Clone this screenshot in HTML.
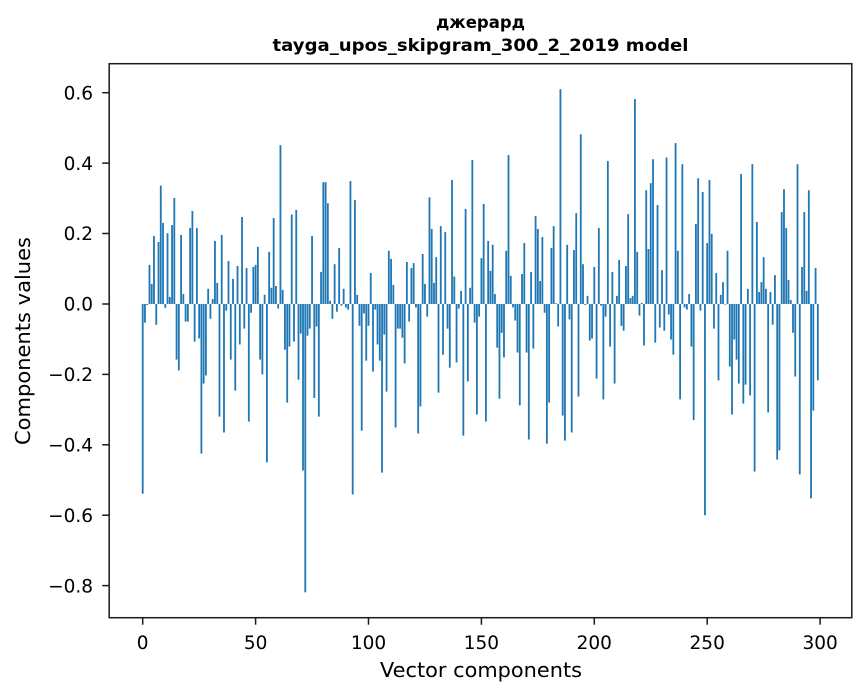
<!DOCTYPE html>
<html><head><meta charset="utf-8"><style>
html,body{margin:0;padding:0;background:#fff;}
svg{display:block;}
text{font-family:"DejaVu Sans","Liberation Sans",sans-serif;fill:#000;}
</style></head><body>
<svg width="867" height="696" viewBox="0 0 867 696" xmlns="http://www.w3.org/2000/svg">
<rect width="867" height="696" fill="#fff"/>
<text x="480.5" y="28" text-anchor="middle" font-weight="bold" font-size="16.5">джерард</text>
<text x="480.5" y="51" text-anchor="middle" font-weight="bold" font-size="16.5" textLength="416" lengthAdjust="spacingAndGlyphs">tayga_upos_skipgram_300_2_2019 model</text>
<g transform="translate(142.7,303.96) scale(2.258,-352.1)" fill="#1f77b4">
<rect x="-.4" y="-.539" width=".8" height=".539"/>
<rect x=".6" y="-.053" width=".8" height=".053"/>
<rect x="1.6" y="-.003" width=".8" height=".003"/>
<rect x="2.6" y="0" width=".8" height=".111"/>
<rect x="3.6" y="0" width=".8" height=".057"/>
<rect x="4.6" y="0" width=".8" height=".193"/>
<rect x="5.6" y="-.059" width=".8" height=".059"/>
<rect x="6.6" y="0" width=".8" height=".176"/>
<rect x="7.6" y="0" width=".8" height=".336"/>
<rect x="8.6" y="0" width=".8" height=".23"/>
<rect x="9.6" y="-.011" width=".8" height=".011"/>
<rect x="10.6" y="0" width=".8" height=".201"/>
<rect x="11.6" y="0" width=".8" height=".02"/>
<rect x="12.6" y="0" width=".8" height=".224"/>
<rect x="13.6" y="0" width=".8" height=".301"/>
<rect x="14.6" y="-.158" width=".8" height=".158"/>
<rect x="15.6" y="-.189" width=".8" height=".189"/>
<rect x="16.6" y="0" width=".8" height=".196"/>
<rect x="17.6" y="0" width=".8" height=".028"/>
<rect x="18.6" y="-.05" width=".8" height=".05"/>
<rect x="19.6" y="-.05" width=".8" height=".05"/>
<rect x="20.6" y="0" width=".8" height=".216"/>
<rect x="21.6" y="0" width=".8" height=".264"/>
<rect x="22.6" y="-.107" width=".8" height=".107"/>
<rect x="23.6" y="0" width=".8" height=".216"/>
<rect x="24.6" y="-.098" width=".8" height=".098"/>
<rect x="25.6" y="-.425" width=".8" height=".425"/>
<rect x="26.6" y="-.226" width=".8" height=".226"/>
<rect x="27.6" y="-.203" width=".8" height=".203"/>
<rect x="28.6" y="0" width=".8" height=".043"/>
<rect x="29.6" y="-.042" width=".8" height=".042"/>
<rect x="30.6" y="0" width=".8" height=".014"/>
<rect x="31.6" y="0" width=".8" height=".179"/>
<rect x="32.6" y="0" width=".8" height=".06"/>
<rect x="33.6" y="-.32" width=".8" height=".32"/>
<rect x="34.6" y="0" width=".8" height=".196"/>
<rect x="35.6" y="-.365" width=".8" height=".365"/>
<rect x="36.6" y="-.019" width=".8" height=".019"/>
<rect x="37.6" y="0" width=".8" height=".122"/>
<rect x="38.6" y="-.158" width=".8" height=".158"/>
<rect x="39.6" y="0" width=".8" height=".071"/>
<rect x="40.6" y="-.246" width=".8" height=".246"/>
<rect x="41.6" y="0" width=".8" height=".108"/>
<rect x="42.6" y="-.115" width=".8" height=".115"/>
<rect x="43.6" y="0" width=".8" height=".247"/>
<rect x="44.6" y="-.07" width=".8" height=".07"/>
<rect x="45.6" y="0" width=".8" height=".102"/>
<rect x="46.6" y="-.334" width=".8" height=".334"/>
<rect x="47.6" y="-.025" width=".8" height=".025"/>
<rect x="48.6" y="0" width=".8" height=".105"/>
<rect x="49.6" y="0" width=".8" height=".111"/>
<rect x="50.6" y="0" width=".8" height=".162"/>
<rect x="51.6" y="-.158" width=".8" height=".158"/>
<rect x="52.6" y="-.2" width=".8" height=".2"/>
<rect x="53.6" y="0" width=".8" height=".026"/>
<rect x="54.6" y="-.45" width=".8" height=".45"/>
<rect x="55.6" y="0" width=".8" height=".148"/>
<rect x="56.6" y="0" width=".8" height=".046"/>
<rect x="57.6" y="0" width=".8" height=".244"/>
<rect x="58.6" y="0" width=".8" height=".051"/>
<rect x="59.6" y="-.013" width=".8" height=".013"/>
<rect x="60.6" y="0" width=".8" height=".451"/>
<rect x="61.6" y="0" width=".8" height=".04"/>
<rect x="62.6" y="-.13" width=".8" height=".13"/>
<rect x="63.6" y="-.28" width=".8" height=".28"/>
<rect x="64.6" y="-.121" width=".8" height=".121"/>
<rect x="65.6" y="0" width=".8" height=".254"/>
<rect x="66.6" y="-.107" width=".8" height=".107"/>
<rect x="67.6" y="0" width=".8" height=".267"/>
<rect x="68.6" y="-.215" width=".8" height=".215"/>
<rect x="69.6" y="-.084" width=".8" height=".084"/>
<rect x="70.6" y="-.473" width=".8" height=".473"/>
<rect x="71.6" y="-.819" width=".8" height=".819"/>
<rect x="72.6" y="-.09" width=".8" height=".09"/>
<rect x="73.6" y="-.07" width=".8" height=".07"/>
<rect x="74.6" y="0" width=".8" height=".193"/>
<rect x="75.6" y="-.267" width=".8" height=".267"/>
<rect x="76.6" y="-.064" width=".8" height=".064"/>
<rect x="77.6" y="-.32" width=".8" height=".32"/>
<rect x="78.6" y="0" width=".8" height=".091"/>
<rect x="79.6" y="0" width=".8" height=".346"/>
<rect x="80.6" y="0" width=".8" height=".346"/>
<rect x="81.6" y="0" width=".8" height=".286"/>
<rect x="82.6" y="0" width=".8" height=".009"/>
<rect x="83.6" y="-.042" width=".8" height=".042"/>
<rect x="84.6" y="0" width=".8" height=".113"/>
<rect x="85.6" y="-.022" width=".8" height=".022"/>
<rect x="86.6" y="0" width=".8" height=".159"/>
<rect x="87.6" y="-.005" width=".8" height=".005"/>
<rect x="88.6" y="0" width=".8" height=".043"/>
<rect x="89.6" y="-.01" width=".8" height=".01"/>
<rect x="90.6" y="-.016" width=".8" height=".016"/>
<rect x="91.6" y="0" width=".8" height=".349"/>
<rect x="92.6" y="-.541" width=".8" height=".541"/>
<rect x="93.6" y="0" width=".8" height=".295"/>
<rect x="94.6" y="0" width=".8" height=".026"/>
<rect x="95.6" y="-.062" width=".8" height=".062"/>
<rect x="96.6" y="-.36" width=".8" height=".36"/>
<rect x="97.6" y="-.027" width=".8" height=".027"/>
<rect x="98.6" y="-.161" width=".8" height=".161"/>
<rect x="99.6" y="-.062" width=".8" height=".062"/>
<rect x="100.6" y="0" width=".8" height=".088"/>
<rect x="101.6" y="-.192" width=".8" height=".192"/>
<rect x="102.6" y="-.016" width=".8" height=".016"/>
<rect x="103.6" y="-.115" width=".8" height=".115"/>
<rect x="104.6" y="-.161" width=".8" height=".161"/>
<rect x="105.6" y="-.479" width=".8" height=".479"/>
<rect x="106.6" y="-.087" width=".8" height=".087"/>
<rect x="107.6" y="-.249" width=".8" height=".249"/>
<rect x="108.6" y="0" width=".8" height=".151"/>
<rect x="109.6" y="0" width=".8" height=".128"/>
<rect x="110.6" y="0" width=".8" height=".054"/>
<rect x="111.6" y="-.351" width=".8" height=".351"/>
<rect x="112.6" y="-.07" width=".8" height=".07"/>
<rect x="113.6" y="-.07" width=".8" height=".07"/>
<rect x="114.6" y="-.096" width=".8" height=".096"/>
<rect x="115.6" y="-.169" width=".8" height=".169"/>
<rect x="116.6" y="0" width=".8" height=".119"/>
<rect x="117.6" y="-.05" width=".8" height=".05"/>
<rect x="118.6" y="0" width=".8" height=".102"/>
<rect x="119.6" y="0" width=".8" height=".116"/>
<rect x="120.6" y="-.01" width=".8" height=".01"/>
<rect x="121.6" y="-.368" width=".8" height=".368"/>
<rect x="122.6" y="-.291" width=".8" height=".291"/>
<rect x="123.6" y="0" width=".8" height=".142"/>
<rect x="124.6" y="0" width=".8" height=".057"/>
<rect x="125.6" y="-.036" width=".8" height=".036"/>
<rect x="126.6" y="0" width=".8" height=".303"/>
<rect x="127.6" y="0" width=".8" height=".213"/>
<rect x="128.6" y="0" width=".8" height=".06"/>
<rect x="129.6" y="0" width=".8" height=".133"/>
<rect x="130.6" y="-.252" width=".8" height=".252"/>
<rect x="131.6" y="0" width=".8" height=".221"/>
<rect x="132.6" y="-.144" width=".8" height=".144"/>
<rect x="133.6" y="0" width=".8" height=".204"/>
<rect x="134.6" y="-.07" width=".8" height=".07"/>
<rect x="135.6" y="-.181" width=".8" height=".181"/>
<rect x="136.6" y="0" width=".8" height=".352"/>
<rect x="137.6" y="0" width=".8" height=".078"/>
<rect x="138.6" y="-.166" width=".8" height=".166"/>
<rect x="139.6" y="-.013" width=".8" height=".013"/>
<rect x="140.6" y="0" width=".8" height=".037"/>
<rect x="141.6" y="-.374" width=".8" height=".374"/>
<rect x="142.6" y="0" width=".8" height=".27"/>
<rect x="143.6" y="-.22" width=".8" height=".22"/>
<rect x="144.6" y="0" width=".8" height=".046"/>
<rect x="145.6" y="0" width=".8" height=".409"/>
<rect x="146.6" y="-.053" width=".8" height=".053"/>
<rect x="147.6" y="-.314" width=".8" height=".314"/>
<rect x="148.6" y="-.036" width=".8" height=".036"/>
<rect x="149.6" y="0" width=".8" height=".13"/>
<rect x="150.6" y="0" width=".8" height=".284"/>
<rect x="151.6" y="-.334" width=".8" height=".334"/>
<rect x="152.6" y="0" width=".8" height=".179"/>
<rect x="153.6" y="0" width=".8" height=".094"/>
<rect x="154.6" y="0" width=".8" height=".168"/>
<rect x="155.6" y="0" width=".8" height=".028"/>
<rect x="156.6" y="-.124" width=".8" height=".124"/>
<rect x="157.6" y="-.269" width=".8" height=".269"/>
<rect x="158.6" y="-.082" width=".8" height=".082"/>
<rect x="159.6" y="-.152" width=".8" height=".152"/>
<rect x="160.6" y="0" width=".8" height=".151"/>
<rect x="161.6" y="0" width=".8" height=".423"/>
<rect x="162.6" y="0" width=".8" height=".08"/>
<rect x="163.6" y="-.01" width=".8" height=".01"/>
<rect x="164.6" y="-.047" width=".8" height=".047"/>
<rect x="165.6" y="-.138" width=".8" height=".138"/>
<rect x="166.6" y="-.288" width=".8" height=".288"/>
<rect x="167.6" y="0" width=".8" height=".085"/>
<rect x="168.6" y="0" width=".8" height=".173"/>
<rect x="169.6" y="-.138" width=".8" height=".138"/>
<rect x="170.6" y="-.385" width=".8" height=".385"/>
<rect x="171.6" y="0" width=".8" height=".091"/>
<rect x="172.6" y="-.127" width=".8" height=".127"/>
<rect x="173.6" y="0" width=".8" height=".25"/>
<rect x="174.6" y="0" width=".8" height=".213"/>
<rect x="175.6" y="0" width=".8" height=".065"/>
<rect x="176.6" y="0" width=".8" height=".19"/>
<rect x="177.6" y="-.025" width=".8" height=".025"/>
<rect x="178.6" y="-.397" width=".8" height=".397"/>
<rect x="179.6" y="-.28" width=".8" height=".28"/>
<rect x="180.6" y="0" width=".8" height=".159"/>
<rect x="181.6" y="0" width=".8" height=".221"/>
<rect x="182.6" y="0" width=".8" height=".002"/>
<rect x="183.6" y="-.064" width=".8" height=".064"/>
<rect x="184.6" y="0" width=".8" height=".61"/>
<rect x="185.6" y="-.317" width=".8" height=".317"/>
<rect x="186.6" y="-.388" width=".8" height=".388"/>
<rect x="187.6" y="0" width=".8" height=".168"/>
<rect x="188.6" y="-.044" width=".8" height=".044"/>
<rect x="189.6" y="-.365" width=".8" height=".365"/>
<rect x="190.6" y="0" width=".8" height=".153"/>
<rect x="191.6" y="0" width=".8" height=".258"/>
<rect x="192.6" y="-.263" width=".8" height=".263"/>
<rect x="193.6" y="0" width=".8" height=".482"/>
<rect x="194.6" y="0" width=".8" height=".113"/>
<rect x="195.6" y="-.003" width=".8" height=".003"/>
<rect x="196.6" y="0" width=".8" height=".023"/>
<rect x="197.6" y="-.104" width=".8" height=".104"/>
<rect x="198.6" y="-.098" width=".8" height=".098"/>
<rect x="199.6" y="0" width=".8" height=".105"/>
<rect x="200.6" y="-.212" width=".8" height=".212"/>
<rect x="201.6" y="0" width=".8" height=".216"/>
<rect x="202.6" y="-.005" width=".8" height=".005"/>
<rect x="203.6" y="-.271" width=".8" height=".271"/>
<rect x="204.6" y="-.036" width=".8" height=".036"/>
<rect x="205.6" y="0" width=".8" height=".406"/>
<rect x="206.6" y="-.121" width=".8" height=".121"/>
<rect x="207.6" y="0" width=".8" height=".091"/>
<rect x="208.6" y="-.226" width=".8" height=".226"/>
<rect x="209.6" y="0" width=".8" height=".023"/>
<rect x="210.6" y="0" width=".8" height=".125"/>
<rect x="211.6" y="-.062" width=".8" height=".062"/>
<rect x="212.6" y="-.076" width=".8" height=".076"/>
<rect x="213.6" y="0" width=".8" height=".108"/>
<rect x="214.6" y="0" width=".8" height=".255"/>
<rect x="215.6" y="0" width=".8" height=".017"/>
<rect x="216.6" y="0" width=".8" height=".023"/>
<rect x="217.6" y="0" width=".8" height=".582"/>
<rect x="218.6" y="0" width=".8" height=".148"/>
<rect x="219.6" y="-.033" width=".8" height=".033"/>
<rect x="220.6" y="0" width=".8" height=".003"/>
<rect x="221.6" y="-.118" width=".8" height=".118"/>
<rect x="222.6" y="0" width=".8" height=".323"/>
<rect x="223.6" y="0" width=".8" height=".156"/>
<rect x="224.6" y="0" width=".8" height=".343"/>
<rect x="225.6" y="0" width=".8" height=".411"/>
<rect x="226.6" y="-.11" width=".8" height=".11"/>
<rect x="227.6" y="0" width=".8" height=".281"/>
<rect x="228.6" y="-.067" width=".8" height=".067"/>
<rect x="229.6" y="0" width=".8" height=".096"/>
<rect x="230.6" y="-.076" width=".8" height=".076"/>
<rect x="231.6" y="0" width=".8" height=".416"/>
<rect x="232.6" y="-.03" width=".8" height=".03"/>
<rect x="233.6" y="-.101" width=".8" height=".101"/>
<rect x="234.6" y="-.144" width=".8" height=".144"/>
<rect x="235.6" y="0" width=".8" height=".457"/>
<rect x="236.6" y="0" width=".8" height=".151"/>
<rect x="237.6" y="-.271" width=".8" height=".271"/>
<rect x="238.6" y="0" width=".8" height=".397"/>
<rect x="239.6" y="-.01" width=".8" height=".01"/>
<rect x="240.6" y="-.016" width=".8" height=".016"/>
<rect x="241.6" y="0" width=".8" height=".028"/>
<rect x="242.6" y="-.121" width=".8" height=".121"/>
<rect x="243.6" y="-.33" width=".8" height=".33"/>
<rect x="244.6" y="0" width=".8" height=".227"/>
<rect x="245.6" y="0" width=".8" height=".357"/>
<rect x="246.6" y="-.019" width=".8" height=".019"/>
<rect x="247.6" y="0" width=".8" height=".318"/>
<rect x="248.6" y="-.6" width=".8" height=".6"/>
<rect x="249.6" y="0" width=".8" height=".173"/>
<rect x="250.6" y="0" width=".8" height=".352"/>
<rect x="251.6" y="0" width=".8" height=".199"/>
<rect x="252.6" y="-.07" width=".8" height=".07"/>
<rect x="253.6" y="0" width=".8" height=".088"/>
<rect x="254.6" y="-.217" width=".8" height=".217"/>
<rect x="255.6" y="0" width=".8" height=".026"/>
<rect x="256.6" y="0" width=".8" height=".062"/>
<rect x="257.6" y="-.002" width=".8" height=".002"/>
<rect x="258.6" y="0" width=".8" height=".151"/>
<rect x="259.6" y="-.178" width=".8" height=".178"/>
<rect x="260.6" y="-.314" width=".8" height=".314"/>
<rect x="261.6" y="-.101" width=".8" height=".101"/>
<rect x="262.6" y="-.158" width=".8" height=".158"/>
<rect x="263.6" y="-.226" width=".8" height=".226"/>
<rect x="264.6" y="0" width=".8" height=".369"/>
<rect x="265.6" y="-.283" width=".8" height=".283"/>
<rect x="266.6" y="-.229" width=".8" height=".229"/>
<rect x="267.6" y="0" width=".8" height=".043"/>
<rect x="268.6" y="-.26" width=".8" height=".26"/>
<rect x="269.6" y="0" width=".8" height=".397"/>
<rect x="270.6" y="-.476" width=".8" height=".476"/>
<rect x="271.6" y="0" width=".8" height=".233"/>
<rect x="272.6" y="0" width=".8" height=".034"/>
<rect x="273.6" y="0" width=".8" height=".062"/>
<rect x="274.6" y="0" width=".8" height=".133"/>
<rect x="275.6" y="0" width=".8" height=".043"/>
<rect x="276.6" y="-.308" width=".8" height=".308"/>
<rect x="277.6" y="0" width=".8" height=".034"/>
<rect x="278.6" y="-.059" width=".8" height=".059"/>
<rect x="279.6" y="0" width=".8" height=".082"/>
<rect x="280.6" y="-.442" width=".8" height=".442"/>
<rect x="281.6" y="-.416" width=".8" height=".416"/>
<rect x="282.6" y="0" width=".8" height=".261"/>
<rect x="283.6" y="0" width=".8" height=".326"/>
<rect x="284.6" y="0" width=".8" height=".216"/>
<rect x="285.6" y="0" width=".8" height=".068"/>
<rect x="286.6" y="0" width=".8" height=".011"/>
<rect x="287.6" y="-.082" width=".8" height=".082"/>
<rect x="288.6" y="-.206" width=".8" height=".206"/>
<rect x="289.6" y="0" width=".8" height=".397"/>
<rect x="290.6" y="-.484" width=".8" height=".484"/>
<rect x="291.6" y="0" width=".8" height=".105"/>
<rect x="292.6" y="0" width=".8" height=".261"/>
<rect x="293.6" y="0" width=".8" height=".037"/>
<rect x="294.6" y="0" width=".8" height=".323"/>
<rect x="295.6" y="-.552" width=".8" height=".552"/>
<rect x="296.6" y="-.303" width=".8" height=".303"/>
<rect x="297.6" y="0" width=".8" height=".102"/>
<rect x="298.6" y="-.217" width=".8" height=".217"/>
</g>
<rect x="109.2" y="63.7" width="742.6" height="554" fill="none" stroke="#1a1a1a" stroke-width="1.5"/>
<g stroke="#1a1a1a" stroke-width="1.5">
<line x1="102.2" y1="92.7" x2="109.2" y2="92.7"/>
<line x1="102.2" y1="163.1" x2="109.2" y2="163.1"/>
<line x1="102.2" y1="233.5" x2="109.2" y2="233.5"/>
<line x1="102.2" y1="304" x2="109.2" y2="304"/>
<line x1="102.2" y1="374.4" x2="109.2" y2="374.4"/>
<line x1="102.2" y1="444.8" x2="109.2" y2="444.8"/>
<line x1="102.2" y1="515.2" x2="109.2" y2="515.2"/>
<line x1="102.2" y1="585.6" x2="109.2" y2="585.6"/>
<line x1="142.7" y1="617.7" x2="142.7" y2="624.7"/>
<line x1="255.6" y1="617.7" x2="255.6" y2="624.7"/>
<line x1="368.5" y1="617.7" x2="368.5" y2="624.7"/>
<line x1="481.4" y1="617.7" x2="481.4" y2="624.7"/>
<line x1="594.3" y1="617.7" x2="594.3" y2="624.7"/>
<line x1="707.2" y1="617.7" x2="707.2" y2="624.7"/>
<line x1="820.1" y1="617.7" x2="820.1" y2="624.7"/>
</g>
<g font-size="18.5" text-anchor="end">
<text x="93" y="99.4">0.6</text>
<text x="93" y="169.8">0.4</text>
<text x="93" y="240.2">0.2</text>
<text x="93" y="310.7">0.0</text>
<text x="93" y="381.1">−0.2</text>
<text x="93" y="451.5">−0.4</text>
<text x="93" y="521.9">−0.6</text>
<text x="93" y="592.3">−0.8</text>
</g>
<g font-size="18.5" text-anchor="middle">
<text x="142.7" y="649">0</text>
<text x="255.6" y="649">50</text>
<text x="368.5" y="649">100</text>
<text x="481.4" y="649">150</text>
<text x="594.3" y="649">200</text>
<text x="707.2" y="649">250</text>
<text x="820.1" y="649">300</text>
</g>
<text x="481" y="677" text-anchor="middle" font-size="20.5" textLength="202" lengthAdjust="spacingAndGlyphs">Vector components</text>
<text transform="translate(30,341) rotate(-90)" text-anchor="middle" font-size="20.5" textLength="208" lengthAdjust="spacingAndGlyphs">Components values</text>
</svg>
</body></html>
